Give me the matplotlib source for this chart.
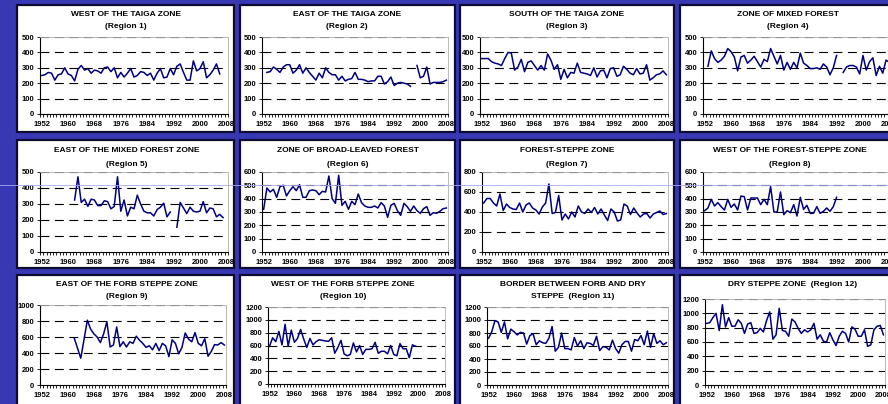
import numpy as np
import matplotlib
matplotlib.use("Agg")
import matplotlib.pyplot as plt
from matplotlib.patches import Rectangle
from matplotlib.lines import Line2D

plt.rcParams['font.family'] = ['Liberation Sans', 'DejaVu Sans']

nan = np.nan
years = np.arange(1952, 2009)
label_years = np.arange(1952, 2009, 8)

# yearly values (start year, values; nan = gap)
r1_start = 1952
r1 = [250, 255, 270, 265, 220, 255, 260, 300, 260, 250, 215, 290, 315, 285, 295,
      265, 285, 280, 265, 300, 305, 275, 300, 235, 270, 240, 265, 295, 240, 250,
      275, 270, 250, 265, 220, 265, 295, 235, 240, 295, 255, 310, 325, 270, 220,
      220, 345, 280, 295, 340, 235, 255, 285, 325, 260]
r2_start = 1953
r2 = [270, 275, 305, 290, 270, 305, 320, 320, 265, 285, 320, 265, 300, 270, 245,
      220, 265, 235, 300, 270, 255, 255, 220, 245, 215, 225, 230, 270, 225, 225,
      220, 210, 215, 215, 245, 245, 195, 210, 240, 185, 200, 205, 200, 195, 180,
      nan, 315, 235, 245, 305, 195, 205, 205, 205, 210, 220]
r3_start = 1952
r3 = [360, 360, 360, 340, 330, 325, 315, 360, 400, 395, 285, 305, 355, 275, 335,
      345, 315, 285, 315, 285, 390, 350, 290, 320, 225, 290, 235, 270, 265, 330,
      270, 265, 260, 250, 300, 240, 280, 285, 235, 295, 300, 245, 255, 310, 290,
      265, 255, 295, 260, 265, 320, 220, 235, 255, 260, 280, 255]
r4_start = 1953
r4 = [310, 410, 360, 335, 350, 375, 425, 405, 370, 280, 370, 380, 330, 350, 375,
      340, 305, 355, 340, 425, 375, 325, 380, 285, 335, 290, 335, 300, 395, 330,
      315, 295, 295, 300, 290, 325, 305, 255, 300, 380, nan, 270, 305, 315, 315,
      305, 260, 380, 285, 340, 365, 250, 310, 265, 350, 335]
r5_start = 1962
r5 = [325, 470, 310, 330, 285, 330, 325, 290, 290, 320, 315, 270, 285, 470, 255,
      325, 225, 280, 270, 355, 300, 255, 245, 245, 225, 265, 280, 305, 220, 250,
      nan, 155, 310, 275, 240, 280, 255, 250, 255, 315, 245, 275, 270, 220, 235, 215]
r6_start = 1952
r6 = [320, 480, 450, 470, 410, 490, 500, 420, 460, 490, 460, 505, 410, 410, 460,
      465, 460, 430, 455, 450, 570, 400, 365, 575, 350, 380, 320, 380, 355, 435,
      370, 345, 335, 335, 345, 330, 370, 345, 260, 350, 365, 310, 275, 365, 340,
      305, 345, 310, 290, 325, 340, 275, 295, 290, 305, 325, 330]
r7_start = 1952
r7 = [490, 535, 535, 490, 460, 580, 415, 480, 445, 430, 425, 490, 400, 470, 490,
      440, 420, 380, 450, 490, 680, 385, 395, 565, 320, 380, 330, 400, 350, 460,
      400, 385, 430, 395, 445, 380, 430, 370, 315, 430, 400, 310, 320, 480, 460,
      375, 440, 390, 350, 380, 385, 340, 380, 395, 410, 375, 385]
r8_start = 1952
r8 = [310, 330, 395, 345, 370, 340, 315, 395, 335, 360, 315, 420, 415, 315, 405,
      405, 405, 355, 395, 355, 490, 300, 300, 450, 280, 310, 295, 355, 270, 410,
      320, 350, 290, 290, 340, 290, 305, 330, 305, 340, 410]
r9_start = 1962
r9 = [585, 460, 335, 570, 810, 700, 640, 600, 530, 640, 790, 475, 500, 725, 480,
      540, 475, 540, 520, 610, 560, 520, 470, 490, 440, 520, 430, 520, 490, 355,
      565, 520, 390, 470, 650, 575, 540, 655, 520, 490, 580, 360, 420, 505, 500,
      530, 500]
r10_start = 1952
r10 = [590, 720, 660, 820, 610, 930, 590, 840, 650, 710, 850, 700, 570, 710, 610,
       660, 690, 680, 670, 665, 720, 480, 570, 680, 470, 440, 460, 640, 500, 600,
       460, 540, 540, 550, 650, 480, 510, 510, 470, 600, 460, 440, 630, 550, 550,
       410, 610, 590]
r11_start = 1952
r11 = [720, 820, 990, 970, 810, 970, 710, 860, 820, 770, 810, 800, 630, 760, 790,
       620, 680, 650, 640, 720, 900, 520, 580, 800, 560, 560, 540, 730, 600, 680,
       560, 650, 640, 610, 750, 530, 590, 580, 540, 690, 560, 490, 620, 670, 670,
       520, 700, 680, 760, 620, 830, 580, 790, 640, 680, 620, 650]
r12_start = 1952
r12 = [860, 870, 940, 1000, 760, 1120, 810, 940, 820, 820, 910, 860, 720, 850, 870,
       720, 730, 790, 740, 900, 1020, 640, 700, 1070, 760, 750, 680, 920, 880, 790,
       720, 770, 740, 770, 860, 640, 700, 610, 600, 730, 630, 550, 680, 750, 720,
       600, 810, 780, 680, 680, 770, 540, 560, 770, 820, 830, 700]

titles = [
    ["WEST OF THE TAIGA ZONE", "(Region 1)"],
    ["EAST OF THE TAIGA ZONE", "(Region 2)"],
    ["SOUTH OF THE TAIGA ZONE", "(Region 3)"],
    ["ZONE OF MIXED FOREST", "(Region 4)"],
    ["EAST OF THE MIXED FOREST ZONE", "(Region 5)"],
    ["ZONE OF BROAD-LEAVED FOREST", "(Region 6)"],
    ["FOREST-STEPPE ZONE", "(Region 7)"],
    ["WEST OF THE FOREST-STEPPE ZONE", "(Region 8)"],
    ["EAST OF THE FORB STEPPE ZONE", "(Region 9)"],
    ["WEST OF THE FORB STEPPE ZONE", "(Region 10)"],
    ["BORDER BETWEEN FORB AND DRY", "STEPPE  (Region 11)"],
    ["DRY STEPPE ZONE  (Region 12)"],
]
series = [(r1_start, r1), (r2_start, r2), (r3_start, r3), (r4_start, r4),
          (r5_start, r5), (r6_start, r6), (r7_start, r7), (r8_start, r8),
          (r9_start, r9), (r10_start, r10), (r11_start, r11), (r12_start, r12)]
ymax = [500, 500, 500, 500, 500, 600, 800, 600, 1000, 1200, 1200, 1200]
ystep = [100, 100, 100, 100, 100, 100, 200, 100, 200, 200, 200, 200]

# layout in pixels: panel box, plot area (left, right, top, bottom), title centre
W, H = 888, 404
boxes = [(17, 5, 234, 132), (240, 5, 455, 132), (460, 5, 674, 132), (680, 5, 900, 132),
         (17, 140, 234, 268), (240, 140, 455, 268), (460, 140, 674, 268), (680, 140, 900, 268),
         (17, 275, 234, 412), (240, 275, 455, 412), (460, 275, 674, 412), (680, 275, 900, 412)]
plots = [(40, 228, 37, 114), (262, 448, 37, 114), (480, 668, 37, 114), (703, 891, 37, 114),
         (40, 228, 172, 252), (262, 448, 172, 252), (482, 668, 172, 252), (703, 891, 172, 252),
         (40, 226, 305, 385), (268, 445, 307, 384), (487, 668, 307, 385), (705, 885, 299, 385)]
title_pos = [(126, 14), (347, 14), (567, 14), (788, 14),
             (127, 151), (348, 151), (567, 151), (790, 151),
             (127, 284), (343, 284), (573, 284), (793, 284)]


def fx(x):
    return x / W


def fy(y):
    return 1 - y / H


fig = plt.figure(figsize=(8.88, 4.04), dpi=100)
fig.patch.set_facecolor('#3838b4')

for i in range(12):
    bx0, by0, bx1, by1 = boxes[i]
    fig.add_artist(Rectangle((fx(bx0), fy(by1)), (bx1 - bx0) / W, (by1 - by0) / H,
                             transform=fig.transFigure, facecolor='white',
                             edgecolor='#0c0c30', lw=1.6, zorder=-1))

    pl, pr, pt, pb = plots[i]
    ax = fig.add_axes([fx(pl), fy(pb), (pr - pl) / W, (pb - pt) / H])
    ax.set_facecolor('none')

    start, vals = series[i]
    yrs = np.arange(start, start + len(vals))
    ax.plot(yrs, vals, color='#000080', lw=1.1, zorder=3)

    ax.set_xlim(1951.5, 2008.5)
    ax.set_ylim(0, ymax[i])
    yt = np.arange(0, ymax[i] + 1, ystep[i])
    for y in yt[1:]:
        ax.axhline(y, color='black', lw=0.8, dashes=(8, 5), zorder=1)

    ax.set_yticks(yt)
    ax.set_yticklabels([str(v) for v in yt], fontsize=5.5, fontweight='bold')
    ax.set_xticks(label_years)
    ax.set_xticklabels([str(v) for v in label_years], fontsize=5.5, fontweight='bold')
    ax.set_xticks(np.arange(1951.5, 2009, 1), minor=True)
    ax.tick_params(axis='x', which='major', length=0, pad=5)
    ax.tick_params(axis='x', which='minor', length=2.5, width=0.6, direction='out')
    ax.tick_params(axis='y', length=2.5, width=0.6, direction='out', pad=1.5)
    for s in ['left', 'bottom']:
        ax.spines[s].set_color('black')
        ax.spines[s].set_linewidth(0.8)
    for s in ['top', 'right']:
        ax.spines[s].set_color('#b0b0b0')
        ax.spines[s].set_linewidth(0.6)

    tx, ty = title_pos[i]
    for k, line in enumerate(titles[i]):
        fig.text(fx(tx), fy(ty + 13 * k), line, ha='center', va='center',
                 fontsize=6, fontweight='bold')

# faint projector line across the middle row
fig.add_artist(Line2D([0, 1], [fy(185), fy(185)], transform=fig.transFigure,
                      color='#a8a8f0', lw=0.6, zorder=10))

fig.savefig('out.png', dpi=100, facecolor=fig.get_facecolor())
